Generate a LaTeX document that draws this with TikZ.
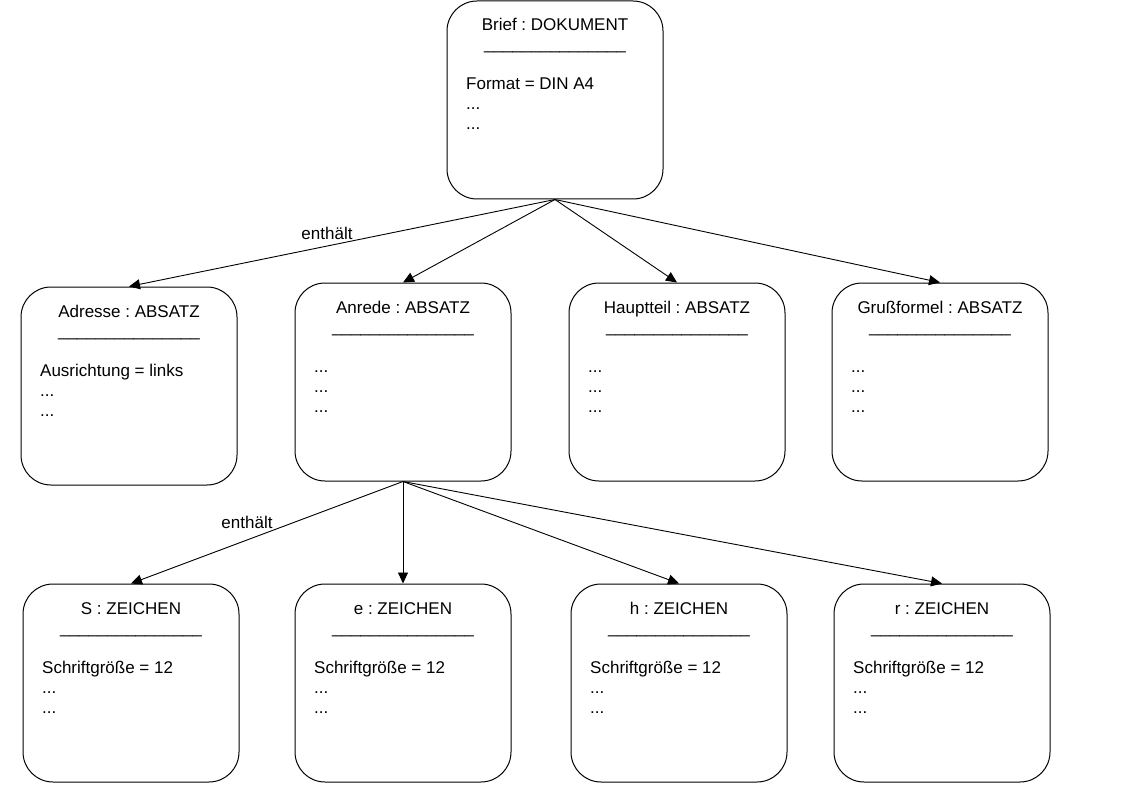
\documentclass[tikz,border=0pt]{standalone}
\usepackage{fontspec}
\setmainfont{Liberation Sans}
\usetikzlibrary{arrows.meta}
\frenchspacing
\tikzset{
  box/.style={draw=black, line width=1pt, rounded corners=30pt, minimum width=216pt, minimum height=198pt, inner sep=0pt, fill=white},
  txt/.style={inner sep=0pt, font=\fontsize{17pt}{20pt}\selectfont\frenchspacing, text=black},
  arr/.style={draw=black, line width=0.9pt, -{Triangle[length=11pt,width=10pt]}},
}
\newcommand\uline{\_\_\_\_\_\_\_\_\_\_\_\_\_\_\_}
% name, left, top, title, first line
\newcommand\umlbox[5]{%
  \node[box] (#1) at ({#2+108},{#3+99}) {};
  \node[txt, anchor=base] (#1-t) at ({#2+108},{#3+30}) {#4};
  \node[txt, anchor=base] (#1-u) at ({#2+108},{#3+49}) {\uline};
  \node[txt, anchor=base west] (#1-a) at ({#2+19},{#3+89}) {#5};
  \node[txt, anchor=base west] (#1-b) at ({#2+19},{#3+109}) {...};
  \node[txt, anchor=base west] (#1-c) at ({#2+19},{#3+129}) {...};
}
\begin{document}
\begin{tikzpicture}[x=1pt,y=-1pt]
\useasboundingbox[fill=white] (0,0) rectangle (1123,794);
\umlbox{b}{447}{1}{Brief : DOKUMENT}{Format = DIN A4}
\umlbox{adr}{21}{287}{Adresse : ABSATZ}{Ausrichtung = links}
\umlbox{anr}{295}{283}{Anrede : ABSATZ}{...}
\umlbox{hpt}{569}{283}{Hauptteil : ABSATZ}{...}
\umlbox{grs}{832}{283}{Grußformel : ABSATZ}{...}
\umlbox{s}{23}{584}{S : ZEICHEN}{Schriftgröße = 12}
\umlbox{e}{295}{584}{e : ZEICHEN}{Schriftgröße = 12}
\umlbox{h}{571}{584}{h : ZEICHEN}{Schriftgröße = 12}
\umlbox{r}{834}{584}{r : ZEICHEN}{Schriftgröße = 12}
\draw[arr] (b.south) -- (adr.north);
\draw[arr] (b.south) -- (anr.north);
\draw[arr] (b.south) -- (hpt.north);
\draw[arr] (b.south) -- (grs.north);
\draw[arr] (anr.south) -- (s.north);
\draw[arr] (anr.south) -- (e.north);
\draw[arr] (anr.south) -- (h.north);
\draw[arr] (anr.south) -- (r.north);
\node[txt] (l1) at (327,233) {enthält};
\node[txt] (l2) at (247,522) {enthält};
\end{tikzpicture}
\end{document}
